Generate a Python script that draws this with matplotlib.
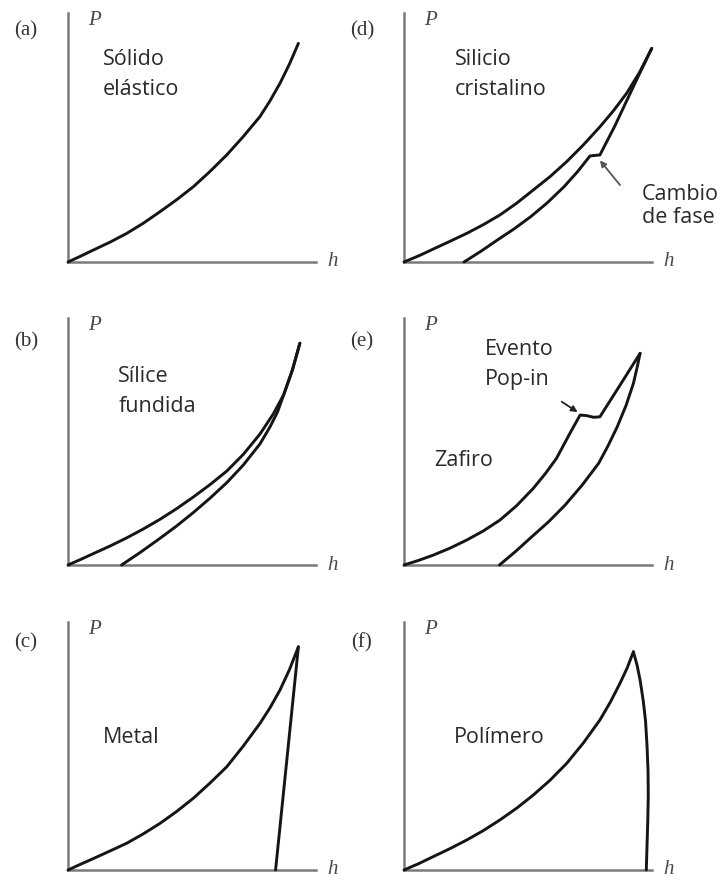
import matplotlib.pyplot as plt

# Curvas carga-descarga (P vs h), normalizadas a la longitud de los ejes
# (a) solido elastico
a_h = [0.0, 0.05, 0.102, 0.17, 0.237, 0.304, 0.371, 0.438, 0.505, 0.572,
       0.640, 0.707, 0.774, 0.815, 0.855, 0.893, 0.929]
a_P = [0.0, 0.023, 0.048, 0.080, 0.115, 0.156, 0.202, 0.250, 0.302, 0.363,
       0.430, 0.504, 0.584, 0.648, 0.718, 0.795, 0.878]

# (b) silice fundida
b_load_h = [0.0, 0.05, 0.102, 0.17, 0.237, 0.304, 0.371, 0.438, 0.505, 0.572,
            0.640, 0.707, 0.774, 0.828, 0.870, 0.905, 0.935]
b_load_P = [0.0, 0.022, 0.046, 0.077, 0.110, 0.146, 0.185, 0.228, 0.275, 0.325,
            0.380, 0.448, 0.530, 0.612, 0.690, 0.790, 0.898]
b_unl_h = [0.935, 0.905, 0.870, 0.845, 0.815, 0.774, 0.707, 0.640, 0.572,
           0.505, 0.438, 0.371, 0.290, 0.216]
b_unl_P = [0.898, 0.790, 0.690, 0.620, 0.560, 0.490, 0.405, 0.333, 0.270,
           0.212, 0.158, 0.108, 0.050, 0.0]

# (c) metal
c_load_h = [0.0, 0.05, 0.102, 0.17, 0.237, 0.304, 0.371, 0.438, 0.505, 0.572,
            0.640, 0.707, 0.774, 0.815, 0.855, 0.893, 0.929]
c_load_P = [0.0, 0.023, 0.046, 0.077, 0.108, 0.146, 0.188, 0.236, 0.289, 0.350,
            0.416, 0.500, 0.591, 0.655, 0.726, 0.808, 0.900]
c_unl_h = [0.929, 0.837]
c_unl_P = [0.900, 0.0]

# (d) silicio cristalino
d_load_h = [0.0, 0.06, 0.118, 0.185, 0.253, 0.32, 0.387, 0.454, 0.521, 0.589,
            0.656, 0.723, 0.790, 0.845, 0.898, 0.950, 0.999]
d_load_P = [0.0, 0.025, 0.052, 0.083, 0.115, 0.150, 0.189, 0.236, 0.289, 0.343,
            0.403, 0.470, 0.543, 0.608, 0.678, 0.762, 0.858]
d_unl_h = [0.999, 0.950, 0.900, 0.850, 0.790, 0.770, 0.750, 0.700, 0.645,
           0.578, 0.511, 0.444, 0.376, 0.310, 0.242]
d_unl_P = [0.858, 0.757, 0.652, 0.546, 0.430, 0.428, 0.426, 0.363, 0.302,
           0.238, 0.182, 0.133, 0.088, 0.043, 0.0]

# (e) zafiro con pop-in
e_load_h = [0.0, 0.06, 0.118, 0.185, 0.253, 0.32, 0.387, 0.454, 0.521, 0.57,
            0.615, 0.669, 0.710, 0.735, 0.765, 0.790, 0.871, 0.952]
e_load_P = [0.0, 0.019, 0.040, 0.068, 0.101, 0.138, 0.182, 0.240, 0.310, 0.370,
            0.432, 0.533, 0.607, 0.605, 0.598, 0.600, 0.728, 0.857]
e_unl_h = [0.952, 0.940, 0.925, 0.895, 0.860, 0.823, 0.785, 0.718, 0.650,
           0.583, 0.516, 0.450, 0.385]
e_unl_P = [0.857, 0.800, 0.735, 0.645, 0.560, 0.483, 0.412, 0.323, 0.243,
           0.175, 0.115, 0.055, 0.0]

# (f) polimero
f_load_h = [0.0, 0.06, 0.118, 0.185, 0.253, 0.32, 0.387, 0.454, 0.521, 0.589,
            0.656, 0.723, 0.790, 0.832, 0.871, 0.900, 0.925]
f_load_P = [0.0, 0.026, 0.054, 0.086, 0.121, 0.159, 0.202, 0.249, 0.302, 0.362,
            0.430, 0.512, 0.605, 0.677, 0.753, 0.815, 0.880]
f_unl_h = [0.925, 0.940, 0.952, 0.965, 0.974, 0.980, 0.984, 0.985, 0.983,
           0.980, 0.977]
f_unl_P = [0.880, 0.825, 0.766, 0.680, 0.600, 0.500, 0.400, 0.300, 0.200,
           0.100, 0.0]

panel_ids = ['(a)', '(d)', '(b)', '(e)', '(c)', '(f)']
panel_curves = [
    [(a_h, a_P)],
    [(d_load_h, d_load_P), (d_unl_h, d_unl_P)],
    [(b_load_h, b_load_P), (b_unl_h, b_unl_P)],
    [(e_load_h, e_load_P), (e_unl_h, e_unl_P)],
    [(c_load_h, c_load_P), (c_unl_h, c_unl_P)],
    [(f_load_h, f_load_P), (f_unl_h, f_unl_P)],
]
# etiquetas de texto: (x, y, texto) en coordenadas del panel
panel_texts = [
    [(0.140, 0.791, 'Sólido'), (0.140, 0.671, 'elástico')],
    [(0.206, 0.791, 'Silicio'), (0.206, 0.671, 'cristalino'),
     (0.960, 0.249, 'Cambio'), (0.960, 0.158, 'de fase')],
    [(0.203, 0.742, 'Sílice'), (0.203, 0.621, 'fundida')],
    [(0.327, 0.850, 'Evento'), (0.327, 0.729, 'Pop-in'), (0.122, 0.401, 'Zafiro')],
    [(0.140, 0.511, 'Metal')],
    [(0.202, 0.511, 'Polímero')],
]
# flechas: (cola, punta, color)
panel_arrows = [
    None,
    ((0.871, 0.309), (0.790, 0.408), '#555555'),
    None,
    ((0.636, 0.661), (0.700, 0.619), '#222222'),
    None,
    None,
]

W, H = 728, 881
fig = plt.figure(figsize=(W / 100, H / 100), dpi=100)

col_left = [68, 404]
row_box = [(13, 262), (318, 565), (622, 870)]
id_x = [26, 362]
id_y = [31, 342, 643]

for i in range(6):
    r, c = i // 2, i % 2
    x0 = col_left[c]
    top, bot = row_box[r]
    ax = fig.add_axes([x0 / W, 1 - bot / H, 248 / W, (bot - top) / H])
    ax.set_xlim(0, 1)
    ax.set_ylim(0, 1)
    ax.set_xticks([])
    ax.set_yticks([])
    for s in ['top', 'right']:
        ax.spines[s].set_visible(False)
    for s in ['left', 'bottom']:
        ax.spines[s].set_color('#7a7a7a')
        ax.spines[s].set_linewidth(1.8)
    ax.patch.set_visible(False)

    for hh, pp in panel_curves[i]:
        ax.plot(hh, pp, color='#151515', lw=2.1, zorder=3,
                solid_capstyle='round', solid_joinstyle='round', clip_on=False)

    for tx, ty, t in panel_texts[i]:
        ax.text(tx, ty, t, fontsize=15.5, family='Open Sans', color='#2a2a2a',
                ha='left', va='baseline')

    if panel_arrows[i] is not None:
        tail, head, col = panel_arrows[i]
        ax.annotate('', xy=head, xytext=tail,
                    arrowprops=dict(arrowstyle='-|>', color=col, lw=1.3,
                                    mutation_scale=9, shrinkA=0, shrinkB=0))

    ax.text(0.105, 0.968, 'P', fontsize=15, family='Liberation Serif', style='italic',
            color='#4a4a4a', ha='center', va='center')
    ax.text(1.065, 0.0, 'h', fontsize=15, family='Liberation Serif', style='italic',
            color='#4a4a4a', ha='center', va='center')

    fig.text(id_x[c] / W, 1 - id_y[r] / H, panel_ids[i], fontsize=15,
             family='Liberation Serif', color='#333333', ha='center', va='center')

fig.savefig('out.png', dpi=100, facecolor='white')
